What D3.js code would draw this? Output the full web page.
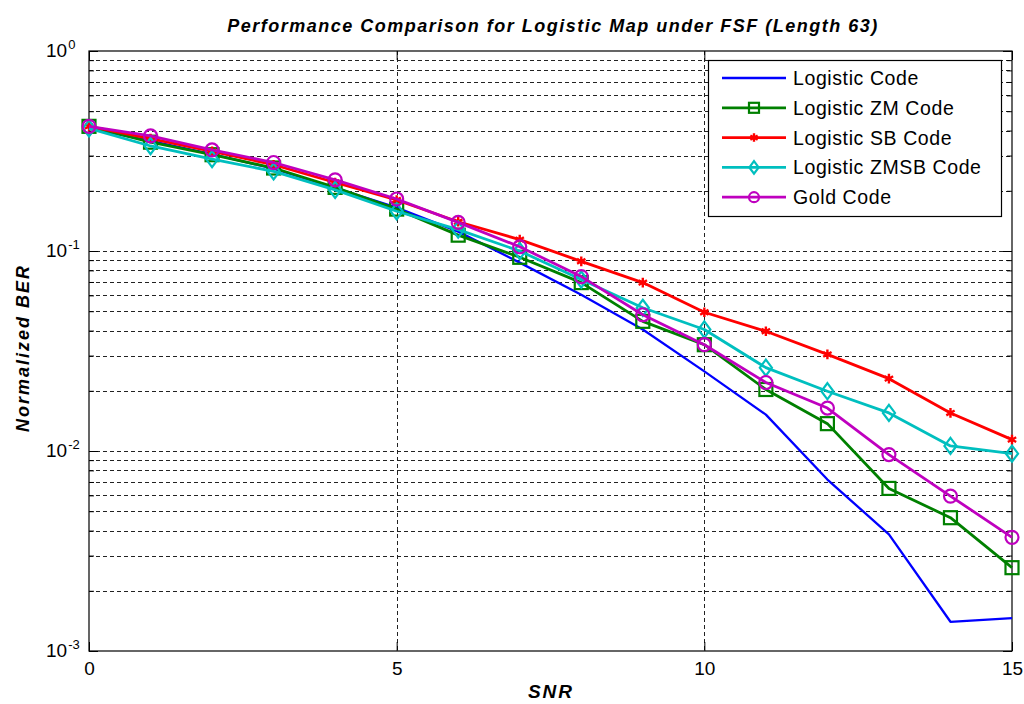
<!DOCTYPE html>
<html>
<head>
<title>Logistic Map under FSF</title>
<script src="https://d3js.org/d3.v7.min.js"></script>
<style>
  body { margin: 0; background: #fff; }
  text { font-family: "Liberation Sans", Arial, sans-serif; }
</style>
</head>
<body>
<svg width="1024" height="704"></svg>
<script>
// data
var snr = [0, 1, 2, 3, 4, 5, 6, 7, 8, 9, 10, 11, 12, 13, 14, 15];
var logisticCode = [0.41, 0.355, 0.305, 0.258, 0.207, 0.165, 0.125, 0.0875, 0.0605, 0.0405, 0.025, 0.0152, 0.0072, 0.00383, 0.0014, 0.00146];
var logisticZM = [0.42, 0.35, 0.303, 0.26, 0.208, 0.162, 0.12, 0.093, 0.0695, 0.0445, 0.034, 0.0203, 0.0137, 0.0065, 0.00464, 0.00261];
var logisticSB = [0.42, 0.365, 0.315, 0.27, 0.22, 0.18, 0.14, 0.114, 0.0888, 0.0695, 0.0494, 0.0397, 0.0304, 0.023, 0.0155, 0.0114];
var logisticZMSB = [0.41, 0.335, 0.288, 0.25, 0.202, 0.158, 0.128, 0.1, 0.072, 0.052, 0.0405, 0.0261, 0.0199, 0.0155, 0.0106, 0.0097];
var goldCode = [0.42, 0.376, 0.32, 0.277, 0.227, 0.182, 0.139, 0.105, 0.0745, 0.048, 0.034, 0.022, 0.0164, 0.0096, 0.00595, 0.0037];
var xTicks = [0, 5, 10, 15];
var yTicks = [1e-3, 1e-2, 1e-1, 1];

var series = [
  {name: "Logistic Code", values: logisticCode, color: "#0000ff", marker: "none", width: 2.3},
  {name: "Logistic ZM Code", values: logisticZM, color: "#008000", marker: "square", width: 2.8},
  {name: "Logistic SB Code", values: logisticSB, color: "#ff0000", marker: "star", width: 2.8},
  {name: "Logistic ZMSB Code", values: logisticZMSB, color: "#00bfbf", marker: "diamond", width: 2.8},
  {name: "Gold Code", values: goldCode, color: "#bf00bf", marker: "circle", width: 2.8}
];

var pLeft = 89, pRight = 1012, pTop = 51, pBottom = 651;
var svg = d3.select("svg");

var x = d3.scaleLinear().domain([0, 15]).range([pLeft, pRight]);
var y = d3.scaleLog().domain([1e-3, 1]).range([pBottom, pTop]);

// minor values for grid
var minor = [];
[1e-3, 1e-2, 1e-1].forEach(function(d) {
  for (var k = 2; k <= 9; k++) minor.push(d * k);
});
var gridY = minor.concat([1e-2, 1e-1]);

var grid = svg.append("g").attr("stroke", "#222").attr("stroke-width", 1).attr("stroke-dasharray", "4,3");
grid.selectAll(".hg").data(gridY).enter().append("line")
  .attr("x1", pLeft).attr("x2", pRight)
  .attr("y1", function(d) { return Math.round(y(d)) + 0.5; })
  .attr("y2", function(d) { return Math.round(y(d)) + 0.5; });
grid.selectAll(".vg").data([5, 10]).enter().append("line")
  .attr("y1", pTop).attr("y2", pBottom)
  .attr("x1", function(d) { return Math.round(x(d)) + 0.5; })
  .attr("x2", function(d) { return Math.round(x(d)) + 0.5; });

// axes
var xAxis = svg.append("g").attr("transform", "translate(0," + pBottom + ")")
  .call(d3.axisBottom(x).tickValues(xTicks).tickSize(-9).tickPadding(11).tickFormat(d3.format("d")));
var xTop = svg.append("g").attr("transform", "translate(0," + pTop + ")")
  .call(d3.axisTop(x).tickValues(xTicks).tickSize(-9).tickFormat(""));

var yAxis = svg.append("g").attr("transform", "translate(" + pLeft + ",0)")
  .call(d3.axisLeft(y).tickValues(yTicks).tickSize(-9).tickPadding(22).tickFormat(function() { return "10"; }));
yAxis.selectAll("text").each(function(d) {
  d3.select(this).append("tspan").attr("dy", "-0.65em").attr("dx", "1")
    .text(Math.round(Math.log10(d)));
});
yAxis.selectAll("text").attr("text-anchor", "start").attr("x", -43).attr("dy", "0.3em");

var yRight = svg.append("g").attr("transform", "translate(" + pRight + ",0)")
  .call(d3.axisRight(y).tickValues(yTicks).tickSize(-9).tickFormat(""));
var yMinorL = svg.append("g").attr("transform", "translate(" + pLeft + ",0)")
  .call(d3.axisLeft(y).tickValues(minor).tickSize(-5).tickFormat(""));
var yMinorR = svg.append("g").attr("transform", "translate(" + pRight + ",0)")
  .call(d3.axisRight(y).tickValues(minor).tickSize(-5).tickFormat(""));

[xAxis, xTop, yAxis, yRight, yMinorL, yMinorR].forEach(function(g) {
  g.select(".domain").remove();
  g.selectAll("line").attr("stroke", "#000");
  g.selectAll("text").attr("fill", "#000").style("font-size", "19px").style("font-family", "Liberation Sans, Arial, sans-serif");
});
yAxis.selectAll("tspan").style("font-size", "13px");

svg.append("rect").attr("x", pLeft).attr("y", pTop).attr("width", pRight - pLeft).attr("height", pBottom - pTop)
  .attr("fill", "none").attr("stroke", "#000").attr("stroke-width", 1.2);

// markers
function drawMarker(g, type, color, cx, cy, s) {
  if (type === "square") {
    g.append("rect").attr("x", cx - s / 2).attr("y", cy - s / 2).attr("width", s).attr("height", s)
      .attr("fill", "none").attr("stroke", color).attr("stroke-width", 2.2);
  } else if (type === "circle") {
    g.append("circle").attr("cx", cx).attr("cy", cy).attr("r", s / 2)
      .attr("fill", "none").attr("stroke", color).attr("stroke-width", 2.2);
  } else if (type === "diamond") {
    var h = s * 0.62;
    g.append("path").attr("d", "M" + cx + "," + (cy - h) + "L" + (cx + h * 0.75) + "," + cy + "L" + cx + "," + (cy + h) + "L" + (cx - h * 0.75) + "," + cy + "Z")
      .attr("fill", "none").attr("stroke", color).attr("stroke-width", 2.2);
  } else if (type === "star") {
    g.append("path").attr("transform", "translate(" + cx + "," + cy + ")")
      .attr("d", d3.symbol().type(d3.symbolAsterisk).size(s * 5)())
      .attr("fill", "none").attr("stroke", color).attr("stroke-width", 2.4);
  }
}

var line = d3.line().x(function(d) { return x(d[0]); }).y(function(d) { return y(d[1]); });
var plot = svg.append("g");
series.forEach(function(s) {
  var pts = snr.map(function(v, i) { return [v, s.values[i]]; });
  plot.append("path").datum(pts).attr("d", line)
    .attr("fill", "none").attr("stroke", s.color).attr("stroke-width", s.width).attr("stroke-linejoin", "round");
  if (s.marker !== "none") {
    pts.forEach(function(p) { drawMarker(plot, s.marker, s.color, x(p[0]), y(p[1]), 13); });
  }
});

// legend
var lg = svg.append("g");
lg.append("rect").attr("x", 708.5).attr("y", 60.5).attr("width", 293).attr("height", 156)
  .attr("fill", "#fff").attr("stroke", "#000").attr("stroke-width", 1.2);
series.forEach(function(s, i) {
  var ly = 78 + i * 29.8;
  lg.append("line").attr("x1", 722).attr("x2", 786).attr("y1", ly).attr("y2", ly)
    .attr("stroke", s.color).attr("stroke-width", s.width);
  if (s.marker !== "none") drawMarker(lg, s.marker, s.color, 754, ly, 10);
  lg.append("text").attr("x", 793).attr("y", ly).attr("dy", "0.36em")
    .style("font-size", "19.5px").style("letter-spacing", "0.6px").attr("fill", "#000").text(s.name);
});

// titles
svg.append("text").attr("x", 553).attr("y", 32).attr("text-anchor", "middle")
  .style("font-size", "18px").style("font-weight", "bold").style("font-style", "italic").style("letter-spacing", "1.5px")
  .text("Performance Comparison for Logistic Map under FSF (Length 63)");
svg.append("text").attr("x", 551).attr("y", 698).attr("text-anchor", "middle")
  .style("font-size", "19px").style("font-weight", "bold").style("font-style", "italic").style("letter-spacing", "2px")
  .text("SNR");
svg.append("text").attr("transform", "translate(29,348) rotate(-90)").attr("text-anchor", "middle")
  .style("font-size", "18px").style("font-weight", "bold").style("font-style", "italic").style("letter-spacing", "2px")
  .text("Normalized BER");
</script>
</body>
</html>
